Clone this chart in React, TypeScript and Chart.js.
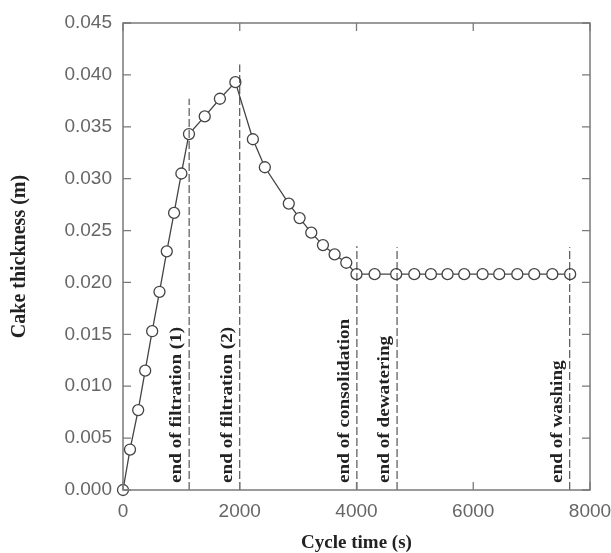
import React, { useEffect, useRef } from "react";
import { Chart, registerables } from "chart.js";

Chart.register(...registerables);

const cycleTime = [0, 120, 260, 380, 500, 625, 750, 875, 1000, 1130, 1400, 1660, 1925, 2225, 2430, 2840, 3025, 3225, 3425, 3625, 3825, 4000, 4310, 4680, 4990, 5275, 5560, 5845, 6160, 6445, 6755, 7045, 7355, 7660];
const cakeThickness = [0, 0.0039, 0.0077, 0.0115, 0.0153, 0.0191, 0.023, 0.0267, 0.0305, 0.0343, 0.036, 0.0377, 0.0393, 0.0338, 0.0311, 0.0276, 0.0262, 0.0248, 0.0236, 0.0227, 0.0219, 0.0208, 0.0208, 0.0208, 0.0208, 0.0208, 0.0208, 0.0208, 0.0208, 0.0208, 0.0208, 0.0208, 0.0208, 0.0208];

const eventTimes = [1133, 2000, 4007, 4695, 7653];
const eventTops = [0.0377, 0.041, 0.0235, 0.0234, 0.0234];
const eventLabels = ["end of filtration (1)", "end of filtration (2)", "end of consolidation", "end of dewatering", "end of washing"];

const xTickStep = 2000;
const yTickStep = 0.005;

const frameColor = "#7a7a7a";
const serif = "'Liberation Serif', 'Times New Roman', serif";
const sans = "'Liberation Sans', Arial, sans-serif";

const framePlugin = {
  id: "framePlugin",
  afterDatasetsDraw(chart: any) {
    const { ctx, chartArea, scales } = chart;
    const { left, right, top, bottom } = chartArea;
    ctx.save();
    // event labels
    ctx.fillStyle = "#222";
    ctx.font = `bold 16px ${serif}`;
    ctx.textAlign = "left";
    ctx.textBaseline = "middle";
    eventTimes.forEach((t, i) => {
      const px = scales.x.getPixelForValue(t);
      ctx.save();
      ctx.translate(px - 12, bottom - 7);
      ctx.rotate(-Math.PI / 2);
      ctx.scale(1.2, 1);
      ctx.fillText(eventLabels[i], 0, 0);
      ctx.restore();
    });
    // frame
    ctx.strokeStyle = frameColor;
    ctx.lineWidth = 1.5;
    ctx.strokeRect(left, top, right - left, bottom - top);
    // inward ticks
    ctx.lineWidth = 1.3;
    const tl = 8;
    scales.y.ticks.forEach((tk: any) => {
      const py = scales.y.getPixelForValue(tk.value);
      ctx.beginPath();
      ctx.moveTo(left, py);
      ctx.lineTo(left + tl, py);
      ctx.moveTo(right, py);
      ctx.lineTo(right - tl, py);
      ctx.stroke();
    });
    scales.x.ticks.forEach((tk: any) => {
      const px = scales.x.getPixelForValue(tk.value);
      ctx.beginPath();
      ctx.moveTo(px, bottom);
      ctx.lineTo(px, bottom - tl);
      ctx.moveTo(px, top);
      ctx.lineTo(px, top + tl);
      ctx.stroke();
    });
    ctx.restore();
  },
};

export default function App() {
  const ref = useRef<HTMLCanvasElement>(null);
  useEffect(() => {
    document.body.style.margin = "0";
    const eventDatasets = eventTimes.map((t, i) => ({
      type: "line" as const,
      data: [
        { x: t, y: 0 },
        { x: t, y: eventTops[i] },
      ],
      borderColor: "#333",
      borderWidth: 1,
      borderDash: [8, 3],
      pointRadius: 0,
      showLine: true,
      fill: false,
    }));
    const chart = new Chart(ref.current as HTMLCanvasElement, {
      type: "scatter",
      data: {
        datasets: [
          ...eventDatasets,
          {
            type: "scatter",
            data: cycleTime.map((t, i) => ({ x: t, y: cakeThickness[i] })),
            showLine: true,
            clip: false,
            borderColor: "#444",
            borderWidth: 1.3,
            pointRadius: 5.5,
            pointBorderWidth: 1.3,
            pointBackgroundColor: "#fff",
            pointBorderColor: "#444",
          } as any,
        ],
      },
      options: {
        animation: false,
        responsive: false,
        layout: { padding: { top: 23, right: 21, left: 0, bottom: 0 } },
        plugins: { legend: { display: false }, tooltip: { enabled: false } },
        scales: {
          x: {
            type: "linear",
            min: 0,
            max: 8000,
            grid: { display: false },
            border: { display: false },
            ticks: {
              stepSize: xTickStep,
              padding: 2,
              color: "#666",
              font: { family: sans, size: 19 },
              maxRotation: 0,
              callback: (v: any) => String(v),
            },
            title: {
              display: true,
              text: "Cycle time (s)",
              color: "#222",
              font: { family: serif, size: 19, weight: "bold", lineHeight: 1 },
              padding: { top: 0, bottom: 0 },
            },
            afterFit(scale: any) {
              scale.height = 63;
              scale.paddingLeft = 0;
              scale.paddingRight = 0;
            },
          },
          y: {
            type: "linear",
            min: 0,
            max: 0.045,
            grid: { display: false },
            border: { display: false },
            ticks: {
              stepSize: yTickStep,
              padding: 3,
              color: "#666",
              font: { family: sans, size: 19 },
              callback: (v: any) => Number(v).toFixed(3),
            },
            title: {
              display: true,
              text: "Cake thickness (m)",
              color: "#222",
              font: { family: serif, size: 20, weight: "bold", lineHeight: 1 },
              padding: { top: 10, bottom: 0 },
            },
            afterFit(scale: any) {
              scale.width = 123;
              scale.paddingTop = 0;
              scale.paddingBottom = 0;
            },
          },
        },
      },
      plugins: [framePlugin],
    });
    return () => chart.destroy();
  }, []);
  return <canvas ref={ref} width={611} height={553} style={{ display: "block" }} />;
}
